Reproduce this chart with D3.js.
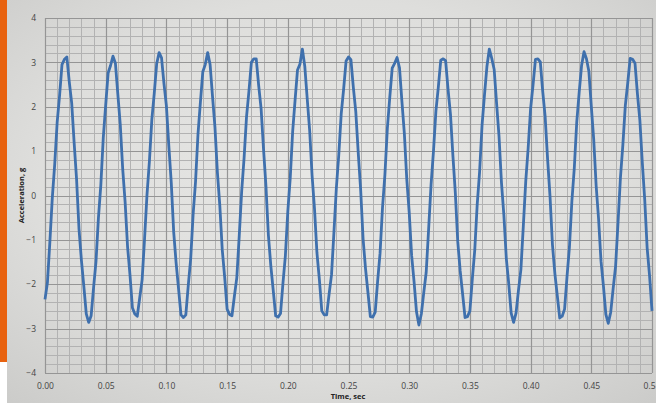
<!DOCTYPE html>
<html><head><meta charset="utf-8">
<script src="https://cdn.jsdelivr.net/npm/d3@7"></script>
<style>html,body{margin:0;padding:0;background:#fff;overflow:hidden}svg{display:block}</style>
</head><body>
<svg id="c" width="656" height="403"></svg>
<script>
const dt = 0.002;
const accel = [
-2.34,-1.96,-1.05,-0.06,0.70,1.64,2.25,2.95,3.07,3.12,2.56,2.08,1.19,
0.37,-0.75,-1.46,-2.05,-2.67,-2.86,-2.71,-2.08,-1.49,-0.51,0.24,1.30,2.04,
2.76,2.93,3.14,2.98,2.28,1.60,0.60,-0.15,-1.15,-1.79,-2.53,-2.67,-2.72,
-2.31,-1.90,-0.98,0.01,0.77,1.71,2.30,2.97,3.22,3.10,2.52,2.02,1.12,
0.29,-0.82,-1.52,-2.10,-2.69,-2.75,-2.69,-2.03,-1.43,-0.43,0.31,1.37,2.10,
2.79,2.95,3.22,2.95,2.23,1.54,0.52,-0.23,-1.22,-1.84,-2.56,-2.68,-2.71,
-2.27,-1.85,-0.91,0.09,0.85,1.77,2.35,3.00,3.08,3.08,2.48,1.96,1.05,
0.21,-0.89,-1.58,-2.14,-2.71,-2.74,-2.66,-1.98,-1.36,-0.36,0.39,1.44,2.15,
2.83,2.96,3.30,2.91,2.18,1.47,0.45,-0.30,-1.29,-1.89,-2.60,-2.69,-2.69,
-2.23,-1.79,-0.83,0.17,0.92,1.84,2.40,3.03,3.12,3.06,2.43,1.89,0.97,
0.14,-0.97,-1.64,-2.18,-2.73,-2.74,-2.63,-1.93,-1.30,-0.28,0.47,1.51,2.21,
2.87,2.98,3.11,2.88,2.12,1.40,0.37,-0.38,-1.35,-1.94,-2.62,-2.92,-2.67,
-2.19,-1.73,-0.76,0.24,1.00,1.90,2.44,3.05,3.08,3.04,2.39,1.83,0.90,
0.06,-1.04,-1.70,-2.22,-2.75,-2.73,-2.60,-1.88,-1.23,-0.21,0.54,1.58,2.26,
2.90,3.30,3.09,2.84,2.07,1.33,0.29,-0.45,-1.42,-1.99,-2.65,-2.86,-2.65,
-2.14,-1.67,-0.69,0.32,1.07,1.96,2.49,3.07,3.08,3.01,2.34,1.77,0.82,
-0.02,-1.11,-1.76,-2.26,-2.76,-2.72,-2.56,-1.83,-1.16,-0.13,0.62,1.65,2.32,
2.93,3.24,3.08,2.80,2.01,1.26,0.22,-0.53,-1.48,-2.04,-2.68,-2.88,-2.63,
-2.10,-1.60,-0.62,0.40,1.14,2.02,2.53,3.09,3.07,2.98,2.29,1.70,0.75,
-0.09,-1.18,-1.81,-2.60
];
const xTicks = [0,0.05,0.1,0.15,0.2,0.25,0.3,0.35,0.4,0.45,0.5];
const yTicks = [-4,-3,-2,-1,0,1,2,3,4];
const xTitle = "Time, sec";
const yTitle = "Acceleration, g";

const svg = d3.select("#c");
const W = 656, H = 403;
const defs = svg.append("defs");
const rg = defs.append("radialGradient").attr("id","bg").attr("cx","0.5").attr("cy","0.45").attr("r","0.75");
rg.append("stop").attr("offset","0").attr("stop-color","#e7e7e5");
rg.append("stop").attr("offset","0.6").attr("stop-color","#dededc");
rg.append("stop").attr("offset","1").attr("stop-color","#cbcbc9");
svg.append("rect").attr("x",0).attr("y",0).attr("width",W).attr("height",H).attr("fill","#fff");
svg.append("rect").attr("x",7).attr("y",0).attr("width",W-7).attr("height",H).attr("fill","url(#bg)");
svg.append("rect").attr("x",0).attr("y",0).attr("width",7).attr("height",362).attr("fill","#e8620f");

const x = d3.scaleLinear().domain([0,0.5]).range([45,652]);
const y = d3.scaleLinear().domain([-4,4]).range([373,18]);

const g = svg.append("g");
const minorX = d3.range(0, 51).map(i => i*0.01);
const minorY = d3.range(0, 41).map(i => -4 + i*0.2);
g.selectAll(".mx").data(minorX).enter().append("line")
 .attr("x1",d=>Math.round(x(d))+0.5).attr("x2",d=>Math.round(x(d))+0.5)
 .attr("y1",y(4)).attr("y2",y(-4)).attr("stroke","#b2b2b2").attr("stroke-width",1);
g.selectAll(".my").data(minorY).enter().append("line")
 .attr("y1",d=>Math.round(y(d))+0.5).attr("y2",d=>Math.round(y(d))+0.5)
 .attr("x1",x(0)).attr("x2",x(0.5)).attr("stroke","#b2b2b2").attr("stroke-width",1);
g.selectAll(".Mx").data(xTicks).enter().append("line")
 .attr("x1",d=>Math.round(x(d))+0.5).attr("x2",d=>Math.round(x(d))+0.5)
 .attr("y1",y(4)).attr("y2",y(-4)).attr("stroke","#959595").attr("stroke-width",1.2);
g.selectAll(".My").data(yTicks).enter().append("line")
 .attr("y1",d=>Math.round(y(d))+0.5).attr("y2",d=>Math.round(y(d))+0.5)
 .attr("x1",x(0)).attr("x2",x(0.5)).attr("stroke","#959595").attr("stroke-width",1.2);

const xAxis = d3.axisBottom(x).tickValues(xTicks).tickFormat(d=> d===0.5 ? "0.5" : d3.format(".2f")(d)).tickSize(0).tickPadding(10);
const xa = svg.append("g").attr("transform",`translate(0,${y(-4)})`).call(xAxis);
xa.select(".domain").remove();
xa.selectAll("text").attr("font-family","Open Sans, Arial, sans-serif").attr("font-size",8.5).attr("fill","#444");
xa.selectAll(".tick").filter(d=>d===0.5).select("text").attr("text-anchor","end").attr("x",3);

const yAxis = d3.axisLeft(y).tickValues(yTicks).tickFormat(d3.format("d")).tickSize(0).tickPadding(9);
const ya = svg.append("g").attr("transform",`translate(${x(0)},0)`).call(yAxis);
ya.select(".domain").remove();
ya.selectAll("text").attr("font-family","Open Sans, Arial, sans-serif").attr("font-size",8.5).attr("fill","#444");

svg.append("text").attr("x",348).attr("y",399).attr("text-anchor","middle")
 .attr("font-family","Open Sans, Arial, sans-serif").attr("font-weight","bold").attr("font-size",7.5).attr("fill","#222").text(xTitle);
svg.append("text").attr("transform",`translate(24,${y(0)}) rotate(-90)`).attr("text-anchor","middle")
 .attr("font-family","Open Sans, Arial, sans-serif").attr("font-weight","bold").attr("font-size",7.5).attr("fill","#222").text(yTitle);

const line = d3.line().x((d,i)=>x(i*dt)).y(d=>y(d));
svg.append("path").datum(accel).attr("d",line).attr("fill","none")
 .attr("stroke","#3f70ad").attr("stroke-width",2.8).attr("stroke-linejoin","round");
</script>
</body></html>
